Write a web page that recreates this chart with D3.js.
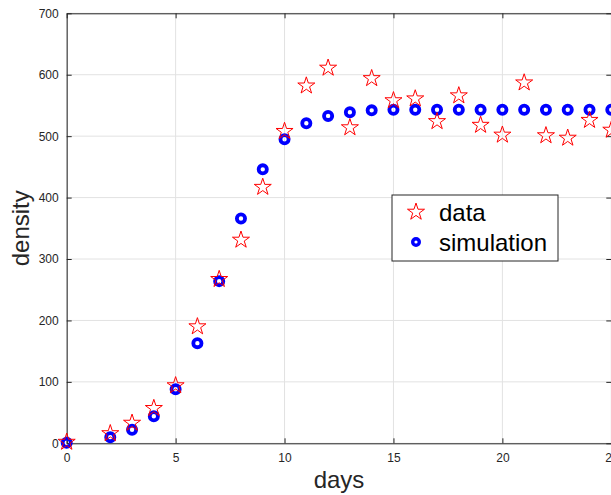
<!DOCTYPE html>
<html>
<head>
<meta charset="utf-8">
<script src="https://cdn.jsdelivr.net/npm/d3@7"></script>
<style>
  body { margin: 0; background: #fff; }
  svg { display: block; font-family: "Liberation Sans", Arial, sans-serif; }
</style>
</head>
<body>
<div id="chart"></div>
<script>
// Our canvas
const width = 611, height = 495
const margin = {top: 13, left: 67, right: 0, bottom: 52}

// data
const dataDays = [0, 2, 3, 4, 5, 6, 7, 8, 9, 10, 11, 12, 13, 14, 15, 16, 17, 18, 19, 20, 21, 22, 23, 24, 25]
const dataDensity = [2, 16, 33, 57, 94, 190, 267, 331, 417, 508, 582, 611, 514, 594, 558, 561, 524, 566, 518, 502, 587, 501, 497, 526, 510]
const simDays = [0, 2, 3, 4, 5, 6, 7, 8, 9, 10, 11, 12, 13, 14, 15, 16, 17, 18, 19, 20, 21, 22, 23, 24, 25]
const simDensity = [1, 10, 22, 44, 88, 163, 264, 366, 446, 495, 521, 533, 539, 542, 543, 543, 543, 543, 543, 543, 543, 543, 543, 543, 543]
const xTicks = [0, 5, 10, 15, 20, 25]
const yTicks = [0, 100, 200, 300, 400, 500, 600, 700]
const legendLabels = ['data', 'simulation']

const x = d3.scaleLinear().domain([0, 25]).range([margin.left - 0.3, 611.3])
const y = d3.scaleLinear().domain([0, 700]).range([443.3, 13.3])

let svg = d3.select('#chart')
  .append('svg')
  .attr('width', width)
  .attr('height', height)

// grid
svg.append('g')
  .selectAll('line.gx')
  .data(xTicks)
  .enter()
  .append('line')
  .attr('x1', d => x(d)).attr('x2', d => x(d))
  .attr('y1', y(0)).attr('y2', y(700))
  .attr('stroke', '#e2e2e2')
svg.append('g')
  .selectAll('line.gy')
  .data(yTicks)
  .enter()
  .append('line')
  .attr('x1', x(0)).attr('x2', x(25))
  .attr('y1', d => y(d)).attr('y2', d => y(d))
  .attr('stroke', '#e2e2e2')

// axes, box style
const axisColor = '#262626'
let styleAxis = g => {
  g.select('.domain').attr('stroke', axisColor)
  g.selectAll('.tick line').attr('stroke', axisColor)
  g.selectAll('.tick text').attr('fill', axisColor).style('font-size', '12px')
}
svg.append('g')
  .attr('transform', `translate(0,${y(0)})`)
  .call(d3.axisBottom(x).tickValues(xTicks).tickSize(-5).tickSizeOuter(0).tickPadding(10))
  .call(styleAxis)
svg.append('g')
  .attr('transform', `translate(0,${y(700)})`)
  .call(d3.axisTop(x).tickValues(xTicks).tickSize(-5).tickSizeOuter(0).tickFormat(''))
  .call(styleAxis)
svg.append('g')
  .attr('transform', `translate(${x(0)},0)`)
  .call(d3.axisLeft(y).tickValues(yTicks).tickSize(-5).tickSizeOuter(0).tickPadding(8))
  .call(styleAxis)
svg.append('g')
  .attr('transform', `translate(${x(25)},0)`)
  .call(d3.axisRight(y).tickValues(yTicks).tickSize(-5).tickSizeOuter(0).tickFormat(''))
  .call(styleAxis)

// axis titles
svg.append('text')
  .attr('x', (x(0) + x(25)) / 2)
  .attr('y', 488)
  .attr('text-anchor', 'middle')
  .attr('fill', axisColor)
  .style('font-size', '24px')
  .text('days')
svg.append('text')
  .attr('transform', `translate(29,${(y(0) + y(700)) / 2}) rotate(-90)`)
  .attr('text-anchor', 'middle')
  .attr('fill', axisColor)
  .style('font-size', '24px')
  .text('density')

const star = d3.symbol().type(d3.symbolStar).size(90)

// simulation circles
svg.append('g')
  .selectAll('circle')
  .data(simDays.map((d, i) => [d, simDensity[i]]))
  .enter()
  .append('circle')
  .attr('cx', d => x(d[0]))
  .attr('cy', d => y(d[1]))
  .attr('r', 4.1)
  .attr('fill', 'none')
  .attr('stroke', '#0000ff')
  .attr('stroke-width', 3.8)

// data stars
svg.append('g')
  .selectAll('path')
  .data(dataDays.map((d, i) => [d, dataDensity[i]]))
  .enter()
  .append('path')
  .attr('d', star)
  .attr('transform', d => `translate(${x(d[0])},${y(d[1])})`)
  .attr('fill', 'none')
  .attr('stroke', '#ff0000')
  .attr('stroke-width', 1)

// legend
let legend = svg.append('g').attr('transform', 'translate(392,195)')
legend.append('rect')
  .attr('width', 166).attr('height', 66)
  .attr('fill', '#fff')
  .attr('stroke', axisColor)
legend.append('path')
  .attr('d', star)
  .attr('transform', 'translate(24,17)')
  .attr('fill', 'none').attr('stroke', '#ff0000')
legend.append('circle')
  .attr('cx', 24).attr('cy', 47).attr('r', 3.3)
  .attr('fill', 'none').attr('stroke', '#0000ff').attr('stroke-width', 3.4)
legend.selectAll('text')
  .data(legendLabels)
  .enter()
  .append('text')
  .attr('x', 47)
  .attr('y', (d, i) => 26 + i * 30)
  .attr('fill', '#000')
  .style('font-size', '24px')
  .text(d => d)
</script>
</body>
</html>
